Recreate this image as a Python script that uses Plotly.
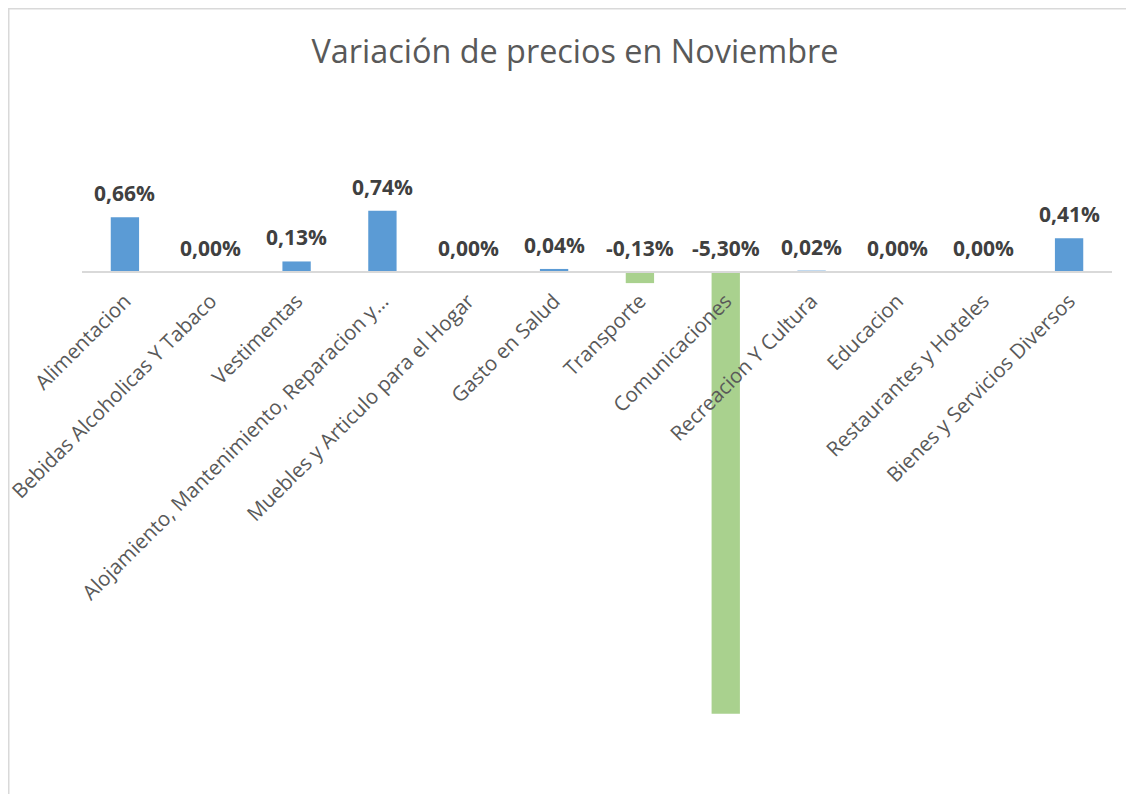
import plotly.graph_objects as go

categories = [
    "Alimentacion",
    "Bebidas Alcoholicas Y Tabaco",
    "Vestimentas",
    "Alojamiento, Mantenimiento, Reparacion y…",
    "Muebles y Articulo para el Hogar",
    "Gasto en Salud",
    "Transporte",
    "Comunicaciones",
    "Recreacion Y Cultura",
    "Educacion",
    "Restaurantes y Hoteles",
    "Bienes y Servicios Diversos",
]
values = [0.66, 0.00, 0.13, 0.74, 0.00, 0.04, -0.13, -5.30, 0.02, 0.00, 0.00, 0.41]

title_text = "Variación de precios en Noviembre"

# page body adds an 8px margin, so figure is slightly smaller than the window
W, H = 1126, 786
ML, MR, MT, MB = 74, 22, 181, 22
YMIN, YMAX = -6, 1

POS_COLOR = "#5B9BD5"
NEG_COLOR = "#A9D18E"
FONT = "Open Sans"

colors = [POS_COLOR if v >= 0 else NEG_COLOR for v in values]
labels = [f"{v:.2f}".replace(".", ",") + "%" for v in values]

fig = go.Figure()
fig.add_trace(go.Bar(
    x=categories, y=values, marker=dict(color=colors, line=dict(width=0)),
    width=0.33, hoverinfo="x+y",
))

for c, v, t in zip(categories, values, labels):
    fig.add_annotation(
        x=c, y=max(v, 0), xref="x", yref="y", text=f"<b>{t}</b>", showarrow=False,
        yanchor="middle", yshift=24,
        font=dict(family=FONT, size=21, color="#404040"),
    )

def px_to_paper_x(px):
    return (px - ML) / (W - ML - MR)

def px_to_paper_y(py):
    return 1 - (py - MT) / (H - MT - MB)

fig.add_shape(
    type="rect", xref="paper", yref="paper",
    x0=px_to_paper_x(0.75), x1=px_to_paper_x(1150),
    y0=px_to_paper_y(810), y1=px_to_paper_y(0.75),
    line=dict(color="#D9D9D9", width=1.5), fillcolor="rgba(0,0,0,0)", layer="below",
)

fig.update_layout(
    width=W, height=H,
    margin=dict(l=ML, r=MR, t=MT, b=MB, pad=0),
    template="none",
    paper_bgcolor="white", plot_bgcolor="white",
    showlegend=False,
    title=dict(
        text=title_text, x=0.5 + 4 / W, xref="container", xanchor="center",
        y=1 - 44 / H, yref="container", yanchor="middle",
        font=dict(family=FONT, size=32.4, color="#595959"),
    ),
    xaxis=dict(
        type="category", anchor="free", position=-YMIN / (YMAX - YMIN),
        showline=True, linecolor="#D9D9D9", linewidth=1.5,
        ticks="", showgrid=False, zeroline=False, tickangle=-45,
        ticklabelstandoff=8,
        tickfont=dict(family=FONT, size=20.5, color="#595959"),
        automargin=False, fixedrange=True,
    ),
    yaxis=dict(
        range=[YMIN, YMAX], visible=False, showgrid=False, zeroline=False,
        domain=[0, 1], automargin=False, fixedrange=True,
    ),
    bargap=0.67,
)

fig.write_html("out.html")
